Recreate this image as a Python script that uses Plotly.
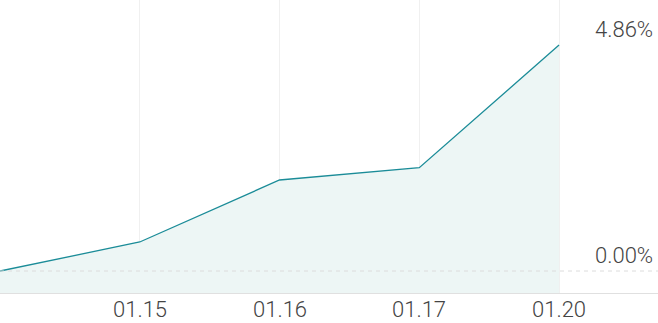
import plotly.graph_objects as go

dates = ["01.14", "01.15", "01.16", "01.17", "01.20"]
returns = [0.0, 0.624, 1.957, 2.222, 4.86]
label_levels = [4.86, 0.0]
label_texts = ["4.86%", "0.00%"]

x_idx = list(range(len(dates)))
y_min, y_max = -0.473, 5.828

fig = go.Figure()
fig.add_trace(go.Scatter(x=x_idx, y=[y_min] * len(x_idx), mode="lines",
                         line=dict(width=0), hoverinfo="skip", showlegend=False))
fig.add_trace(go.Scatter(x=x_idx, y=returns, mode="lines", fill="tonexty",
                         fillcolor="#edf6f5", line=dict(color="#1b8c98", width=1.3),
                         showlegend=False))

fig.add_shape(type="line", xref="paper", x0=0, x1=1, yref="y", y0=0, y1=0,
              line=dict(color="#dcdcdc", width=1, dash="4px,4px"), layer="above")

label_font = dict(family="Roboto", size=22, color="#444444", weight=300)

for lv, tx in zip(label_levels, label_texts):
    fig.add_annotation(xref="paper", x=1, xanchor="right", xshift=-3,
                       yref="y", y=lv, yanchor="bottom", yshift=1,
                       text=tx, showarrow=False, font=label_font)

for xi, d in zip(x_idx[1:], dates[1:]):
    fig.add_annotation(xref="x", x=xi, xanchor="center",
                       yref="paper", y=0, yanchor="middle", yshift=-16,
                       text=d, showarrow=False, font=label_font)

fig.update_layout(
    width=658, height=323, margin=dict(l=0, r=0, t=0, b=30, autoexpand=False),
    paper_bgcolor="white", plot_bgcolor="white",
    xaxis=dict(range=[0, 4.708], tickvals=x_idx[1:], showticklabels=False,
               showgrid=True, gridcolor="#f0f0f0", gridwidth=1, zeroline=False,
               showline=True, linecolor="#e0e0e0", linewidth=1, ticks="",
               automargin=False),
    yaxis=dict(range=[y_min, y_max], showgrid=False, zeroline=False,
               showticklabels=False, showline=False, automargin=False),
)
fig.write_html("out.html")
